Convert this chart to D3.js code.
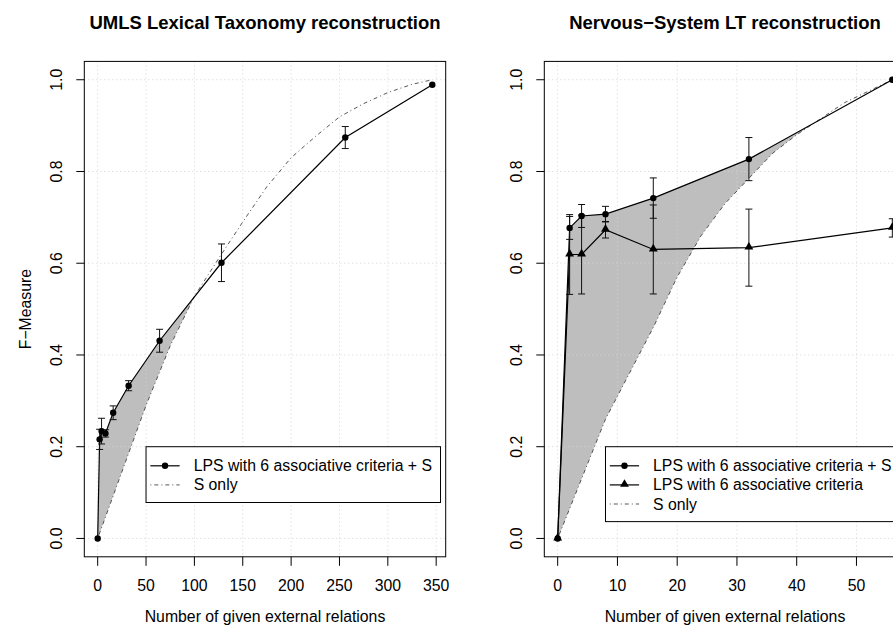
<!DOCTYPE html>
<html><head><meta charset="utf-8">
<script src="https://cdn.jsdelivr.net/npm/d3@7"></script>
<style>
html,body{margin:0;padding:0;background:#fff;}
svg{display:block;}
text{font-family:"Liberation Sans",Arial,Helvetica,sans-serif;fill:#000;}
</style></head>
<body>
<svg id="chart" width="893" height="633"></svg>
<script>
// ---------- DATA ----------
const titleLeft = "UMLS Lexical Taxonomy reconstruction";
const titleRight = "Nervous\u2212System LT reconstruction";
const xLabel = "Number of given external relations";
const yLabel = "F\u2212Measure";

// Left panel (UMLS)
const xLeft      = [0, 2, 4, 8, 16, 32, 64, 128, 256, 346];
const lpsLeft    = [0, 0.216, 0.234, 0.229, 0.274, 0.333, 0.431, 0.601, 0.874, 0.989];
const lpsLeftErr = [0, 0.022, 0.028, 0.008, 0.015, 0.011, 0.025, 0.041, 0.024, 0];
const sLeftX     = [0, 25, 50, 75, 100, 125, 150, 175, 200, 225, 250, 275, 300, 325, 346];
const sLeftY     = [0, 0.145, 0.29, 0.42, 0.528, 0.61, 0.69, 0.767, 0.83, 0.876, 0.919, 0.948, 0.972, 0.99, 1.0];
const xTicksLeft = [0, 50, 100, 150, 200, 250, 300, 350];

// Right panel (Nervous-System)
const xRight       = [0, 2, 4, 8, 16, 32, 56];
const lpsSRight    = [0, 0.677, 0.703, 0.707, 0.742, 0.827, 1.0];
const lpsSRightErr = [0, 0.025, 0.025, 0.017, 0.044, 0.047, 0];
const lpsRight     = [0, 0.619, 0.619, 0.673, 0.630, 0.634, 0.677];
const lpsRightErr  = [0, 0.087, 0.086, 0.018, 0.097, 0.084, 0.020];
const sRightX      = [0, 4, 8, 12, 16, 20, 24, 28, 32, 36, 40, 44, 48, 52, 56];
const sRightY      = [0, 0.13, 0.26, 0.36, 0.46, 0.57, 0.66, 0.73, 0.785, 0.84, 0.88, 0.915, 0.95, 0.975, 1.0];
const xTicksRight  = [0, 10, 20, 30, 40, 50, 60];

const yTicks = [0, 0.2, 0.4, 0.6, 0.8, 1.0];

const legendLeft  = ["LPS with 6 associative criteria + S", "S only"];
const legendRight = ["LPS with 6 associative criteria + S", "LPS with 6 associative criteria", "S only"];

// ---------- LAYOUT ----------
const svg = d3.select("#chart");
const FS = 15.8;
const box = {top: 61.4, bottom: 556.8, left: 84.3, width: 361.4};
const panelOffset = 460;

function pad(ext){ const r = ext[1]-ext[0]; return [ext[0]-0.04*r, ext[1]+0.04*r]; }

function drawPanel(opt){
  const g = svg.append("g");
  const L = box.left + opt.offset, R = L + box.width;
  const x = d3.scaleLinear().domain(pad(opt.xExt)).range([L, R]);
  const y = d3.scaleLinear().domain(pad([0,1])).range([box.bottom, box.top]);

  const cid = "clip" + opt.offset;
  svg.append("clipPath").attr("id", cid).append("rect")
    .attr("x", L).attr("y", box.top).attr("width", box.width).attr("height", box.bottom-box.top);
  const pg = g.append("g").attr("clip-path", `url(#${cid})`);

  // gray area where LPS+S is above S only
  const fU = d3.scaleLinear().domain(opt.upperX).range(opt.upperY).clamp(true);
  const fS = d3.scaleLinear().domain(opt.sX).range(opt.sY).clamp(true);
  let xs = Array.from(new Set(opt.upperX.concat(opt.sX))).sort((a,b)=>a-b);
  const pts = [];
  for (let i=0;i<xs.length;i++){
    pts.push(xs[i]);
    if (i<xs.length-1){
      const a=xs[i], b=xs[i+1];
      const da=fU(a)-fS(a), db=fU(b)-fS(b);
      if (da*db<0){ pts.push(a + (b-a)*da/(da-db)); }
    }
  }
  const area = d3.area()
    .x(d=>x(d)).y0(d=>y(fS(d))).y1(d=>y(Math.max(fU(d), fS(d))));
  pg.append("path").datum(pts).attr("d", area).attr("fill", "#bebebe").attr("stroke","none");

  // grid
  pg.selectAll("line.gx").data(opt.xTicks).enter().append("line")
    .attr("x1", d=>x(d)).attr("x2", d=>x(d)).attr("y1", box.top).attr("y2", box.bottom)
    .attr("stroke", "#d3d3d3").attr("stroke-width", 1).attr("stroke-dasharray", "1,3");
  pg.selectAll("line.gy").data(yTicks).enter().append("line")
    .attr("x1", L).attr("x2", R).attr("y1", d=>y(d)).attr("y2", d=>y(d))
    .attr("stroke", "#d3d3d3").attr("stroke-width", 1).attr("stroke-dasharray", "1,3");

  // S only
  const lineGen = d3.line().x(d=>x(d[0])).y(d=>y(d[1]));
  pg.append("path").datum(opt.sX.map((v,i)=>[v, opt.sY[i]])).attr("d", lineGen)
    .attr("fill","none").attr("stroke","#444").attr("stroke-width",0.9).attr("stroke-dasharray","1,3,4,3");

  // series
  opt.series.forEach(s=>{
    const data = opt.xData.map((v,i)=>[v, s.y[i], s.err[i]]);
    pg.append("path").datum(data).attr("d", lineGen)
      .attr("fill","none").attr("stroke","#000").attr("stroke-width",1.2);
    data.filter(d=>d[2]>0).forEach(d=>{
      const cx = x(d[0]), y1 = y(d[1]+d[2]), y2 = y(d[1]-d[2]);
      pg.append("line").attr("x1",cx).attr("x2",cx).attr("y1",y1).attr("y2",y2).attr("stroke","#111").attr("stroke-width",1);
      [y1,y2].forEach(yy=>pg.append("line").attr("x1",cx-3.5).attr("x2",cx+3.5).attr("y1",yy).attr("y2",yy).attr("stroke","#111").attr("stroke-width",1));
    });
    data.forEach(d=>{
      if (s.shape==="circle"){
        pg.append("circle").attr("cx",x(d[0])).attr("cy",y(d[1])).attr("r",3.2).attr("fill","#000");
      } else {
        pg.append("path").attr("d", d3.symbol(d3.symbolTriangle, 34)())
          .attr("transform",`translate(${x(d[0])},${y(d[1])-0.6})`).attr("fill","#000");
      }
    });
  });

  // box
  g.append("rect").attr("x",L).attr("y",box.top).attr("width",box.width).attr("height",box.bottom-box.top)
    .attr("fill","none").attr("stroke","#000").attr("stroke-width",1);

  // x axis
  const xt = opt.xTicks.filter(t=>x(t)<=R+0.5);
  g.selectAll("line.xt").data(xt).enter().append("line")
    .attr("x1",d=>x(d)).attr("x2",d=>x(d)).attr("y1",box.bottom).attr("y2",box.bottom+9)
    .attr("stroke","#000");
  g.selectAll("text.xt").data(xt).enter().append("text")
    .attr("x",d=>x(d)).attr("y",box.bottom+34).attr("text-anchor","middle")
    .attr("font-size",FS).text(d=>d);
  // y axis
  g.selectAll("line.yt").data(yTicks).enter().append("line")
    .attr("x1",L-8).attr("x2",L).attr("y1",d=>y(d)).attr("y2",d=>y(d)).attr("stroke","#000");
  g.selectAll("text.yt").data(yTicks).enter().append("text")
    .attr("transform",d=>`translate(${L-22},${y(d)}) rotate(-90)`)
    .attr("text-anchor","middle").attr("font-size",FS).text(d=>d.toFixed(1));

  // titles
  g.append("text").attr("x",(L+R)/2).attr("y",29).attr("text-anchor","middle")
    .attr("font-size",18.5).attr("font-weight","bold").text(opt.title);
  g.append("text").attr("x",(L+R)/2).attr("y",box.bottom+65).attr("text-anchor","middle")
    .attr("font-size",FS).text(xLabel);
  if (opt.ylabel){
    g.append("text").attr("transform",`translate(${L-53},${(box.top+box.bottom)/2}) rotate(-90)`)
      .attr("text-anchor","middle").attr("font-size",FS).text(yLabel);
  }

  // legend
  const lg = g.append("g");
  const lx = x(opt.legendAt[0]), ly = y(opt.legendAt[1]);
  const rowH = 19.1;
  const texts = opt.legend.map((t,i)=>lg.append("text").attr("x",lx+47.6).attr("y",ly+(i+1)*rowH)
    .attr("dy","0.35em").attr("font-size",FS).text(t));
  const tw = d3.max(texts, t=>t.node().getComputedTextLength());
  lg.insert("rect",":first-child").attr("x",lx).attr("y",ly).attr("width",47.6+tw+8.5)
    .attr("height",(opt.legend.length+1)*rowH-1.5).attr("fill","#fff").attr("stroke","#000").attr("stroke-width",1);
  opt.legend.forEach((t,i)=>{
    const cy = ly+(i+1)*rowH;
    const sty = opt.legendStyles[i];
    lg.append("line").attr("x1",lx+4.3).attr("x2",lx+33.6).attr("y1",cy).attr("y2",cy)
      .attr("stroke", sty==="s" ? "#444":"#000").attr("stroke-width", sty==="s"?0.9:1.2)
      .attr("stroke-dasharray", sty==="s" ? "1,3,4,3" : null);
    if (sty==="circle") lg.append("circle").attr("cx",lx+19).attr("cy",cy).attr("r",3.2).attr("fill","#000");
    if (sty==="triangle") lg.append("path").attr("d", d3.symbol(d3.symbolTriangle, 34)())
      .attr("transform",`translate(${lx+19},${cy-0.6})`).attr("fill","#000");
  });
}

drawPanel({
  offset: 0, xExt: d3.extent(xLeft), xTicks: xTicksLeft, title: titleLeft, ylabel: true,
  upperX: xLeft, upperY: lpsLeft, sX: sLeftX, sY: sLeftY, xData: xLeft,
  series: [{y: lpsLeft, err: lpsLeftErr, shape: "circle"}],
  legend: legendLeft, legendStyles: ["circle","s"], legendAt: [50, 0.2]
});
drawPanel({
  offset: panelOffset, xExt: d3.extent(xRight), xTicks: xTicksRight, title: titleRight, ylabel: false,
  upperX: xRight, upperY: lpsSRight, sX: sRightX, sY: sRightY, xData: xRight,
  series: [{y: lpsRight, err: lpsRightErr, shape: "triangle"}, {y: lpsSRight, err: lpsSRightErr, shape: "circle"}],
  legend: legendRight, legendStyles: ["circle","triangle","s"], legendAt: [8, 0.2]
});
</script>
</body></html>
